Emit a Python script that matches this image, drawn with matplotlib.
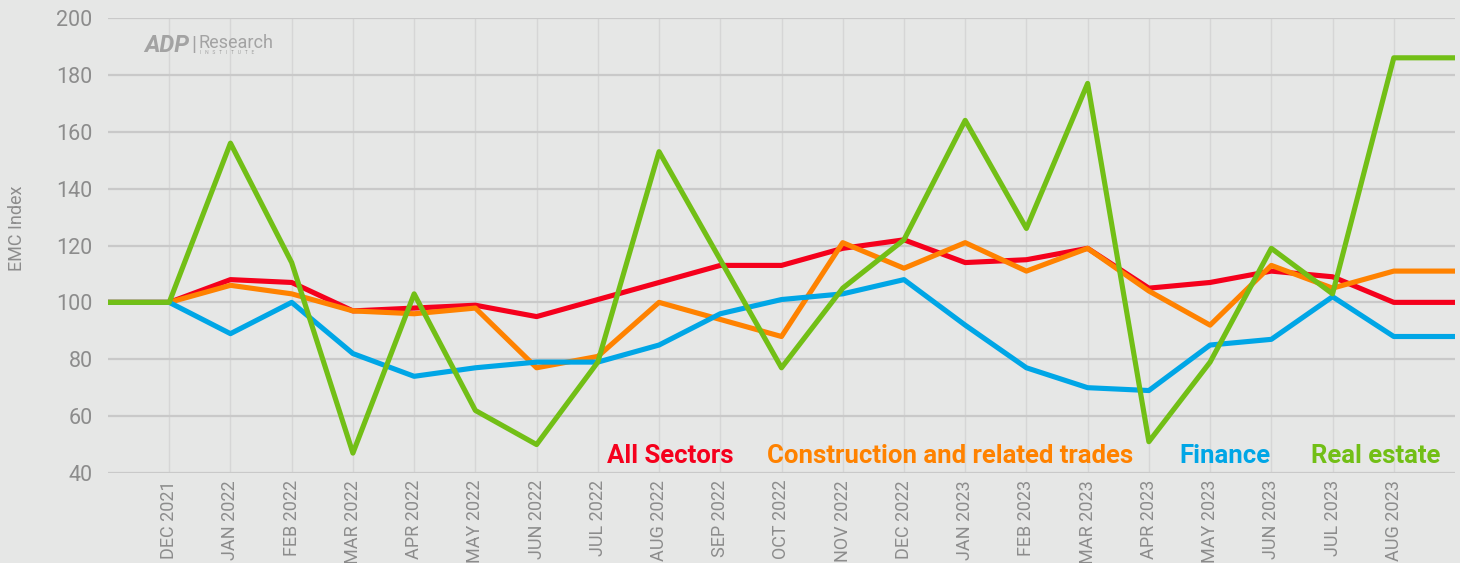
import matplotlib
matplotlib.use('Agg')
import matplotlib.pyplot as plt
import numpy as np

# months from NOV 2021 to SEP 2023, only DEC 2021 - AUG 2023 are labelled
months = ['NOV 2021', 'DEC 2021', 'JAN 2022', 'FEB 2022', 'MAR 2022', 'APR 2022', 'MAY 2022',
          'JUN 2022', 'JUL 2022', 'AUG 2022', 'SEP 2022', 'OCT 2022', 'NOV 2022', 'DEC 2022',
          'JAN 2023', 'FEB 2023', 'MAR 2023', 'APR 2023', 'MAY 2023', 'JUN 2023', 'JUL 2023',
          'AUG 2023', 'SEP 2023']
all_sectors = [100, 100, 108, 107, 97, 98, 99, 95, 101, 107, 113, 113, 119, 122,
               114, 115, 119, 105, 107, 111, 109, 100, 100]
construction = [100, 100, 106, 103, 97, 96, 98, 77, 81, 100, 94, 88, 121, 112,
                121, 111, 119, 104, 92, 113, 105, 111, 111]
finance = [100, 100, 89, 100, 82, 74, 77, 79, 79, 85, 96, 101, 103, 108,
           92, 77, 70, 69, 85, 87, 102, 88, 88]
real_estate = [100, 100, 156, 114, 47, 103, 62, 50, 79, 153, 115, 77, 105, 122,
               164, 126, 177, 51, 79, 119, 103, 186, 186]

series = [('All Sectors', all_sectors, '#f5001c'),
          ('Construction and related trades', construction, '#ff8200'),
          ('Finance', finance, '#00a6e6'),
          ('Real estate', real_estate, '#72bf16')]

bg = '#e6e7e6'
txt_gray = '#8c8c8c'
plt.rcParams['font.family'] = ['Roboto', 'DejaVu Sans']

fig = plt.figure(figsize=(14.6, 5.63), dpi=100, facecolor=bg)
ax = fig.add_axes([108 / 1460, 1 - 473 / 563, 1347 / 1460, 455 / 563])
ax.set_facecolor(bg)

x = np.arange(len(months))
for name, vals, col in series:
    ax.plot(x, vals, color=col, lw=3.7, solid_joinstyle='round', solid_capstyle='butt',
            zorder=3, clip_on=False)

ax.set_xlim(0, len(months) - 1)
ax.set_ylim(40, 200)
ax.set_yticks(np.arange(40, 201, 20))
ax.set_xticks(x[1:-1])
ax.set_xticklabels(months[1:-1], rotation=90, va='top', ha='center')

ax.grid(axis='y', color='#c9c9c9', lw=1.6, zorder=0)
ax.grid(axis='x', color='#d6d6d6', lw=1.0, zorder=0)
for s in ax.spines.values():
    s.set_visible(False)
ax.tick_params(axis='both', length=0, colors=txt_gray)
ax.tick_params(axis='y', labelsize=15.5, pad=11)
ax.tick_params(axis='x', labelsize=13, pad=5)
ax.set_ylabel('EMC Index', color=txt_gray, fontsize=13)
ax.yaxis.set_label_coords((26 - 108) / 1347, (473 - 228) / 455)

# legend as coloured words at the bottom right
legend_x = [607, 767, 1179, 1311]
for (name, vals, col), lx in zip(series, legend_x):
    ax.text((lx - 108) / 1347, (473 - 463) / 455, name, transform=ax.transAxes,
            color=col, fontsize=18.5, fontweight='bold', ha='left', va='baseline', zorder=4)

# logo
logo = '#a3a3a3'
fig.text(144 / 1460, 1 - 52 / 563, 'ADP', color=logo, fontsize=17, fontweight='bold',
         style='italic', ha='left', va='baseline')
fig.text(191 / 1460, 1 - 51 / 563, '|', color=logo, fontsize=15, ha='left', va='baseline')
fig.text(198 / 1460, 1 - 48 / 563, 'Research', color=logo, fontsize=13, ha='left',
         va='baseline')
fig.text(200 / 1460, 1 - 54 / 563, 'I   N   S   T   I   T   U   T   E', color=logo,
         fontsize=3.6, ha='left', va='baseline')

fig.savefig('out.png', dpi=100, facecolor=bg)
